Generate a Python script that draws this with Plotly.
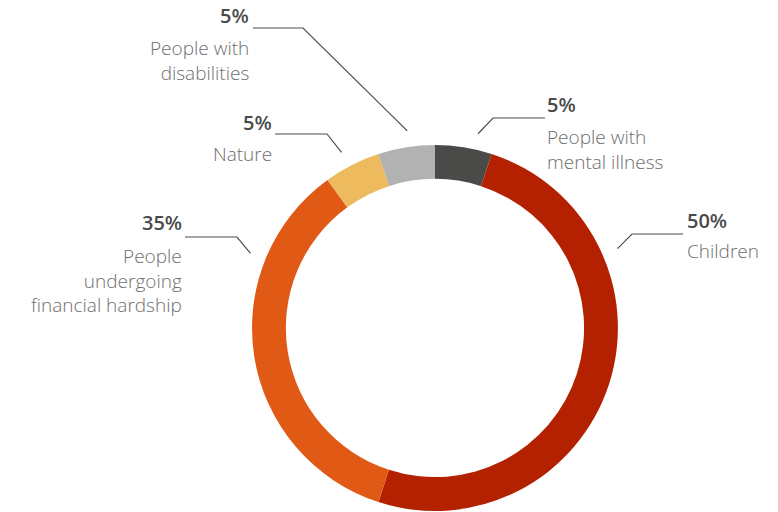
import math
import plotly.graph_objects as go

# ---- data ----
categories = ["People with<br>mental illness", "Children",
              "People<br>undergoing<br>financial hardship", "Nature",
              "People with<br>disabilities"]
values = [5, 50, 35, 5, 5]
pct_labels = ["5%", "50%", "35%", "5%", "5%"]
colors = ["#4a4a48", "#b32100", "#e05a16", "#edba5e", "#b2b2b2"]

# ---- layout config (pixels) ----
W, H = 778, 512
CX, CY, R = 435, 328, 183
HOLE = 0.815
LEAD_R = 199
label_cfg = [
    dict(ang=12.5, elbow=(493, 118), hx=545, side="left", px=545, py=104, ly=149),
    dict(ang=66.5, elbow=(632, 234), hx=683, side="left", px=685, py=220, ly=251),
    dict(ang=292.0, elbow=(237, 237), hx=185, side="right", px=184, py=222, ly=280),
    dict(ang=332.0, elbow=(327, 134), hx=275, side="right", px=274, py=122, ly=154),
    dict(ang=352.0, elbow=(303, 28), hx=253, side="right", px=251, py=15, ly=60),
]


def px(x):
    return x / W


def py(y):
    return 1 - y / H


fig = go.Figure(go.Pie(
    values=values,
    labels=[c.replace("<br>", " ") for c in categories],
    sort=False,
    direction="clockwise",
    rotation=0,
    hole=HOLE,
    marker=dict(colors=colors, line=dict(width=0)),
    textinfo="none",
    hoverinfo="none",
    showlegend=False,
    domain=dict(x=[px(CX - R), px(CX + R)], y=[py(CY + R), py(CY - R)]),
))

shapes = []
annotations = []
for i, cfg in enumerate(label_cfg):
    a = math.radians(cfg["ang"])
    ex = CX + LEAD_R * math.sin(a)
    ey = CY - LEAD_R * math.cos(a)
    bx, by = cfg["elbow"]
    path = f"M {px(ex)},{py(ey)} L {px(bx)},{py(by)} L {px(cfg['hx'])},{py(by)}"
    shapes.append(dict(type="path", xref="paper", yref="paper", path=path,
                       line=dict(color="#4d4d4d", width=1.2)))
    anchor = cfg["side"]
    annotations.append(dict(
        x=px(cfg["px"]), y=py(cfg["py"]), xref="paper", yref="paper",
        text=pct_labels[i], showarrow=False, xanchor=anchor, yanchor="middle",
        align=anchor,
        font=dict(family="Open Sans", size=20, color="#4a4a4a", weight=600)))
    annotations.append(dict(
        x=px(cfg["px"]), y=py(cfg["ly"]), xref="paper", yref="paper",
        text=categories[i], showarrow=False, xanchor=anchor, yanchor="middle",
        align=anchor,
        font=dict(family="Open Sans", size=19, color="#6e6e6e", weight=300)))

fig.update_layout(
    width=W, height=H,
    margin=dict(l=0, r=0, t=0, b=0),
    paper_bgcolor="white", plot_bgcolor="white",
    shapes=shapes, annotations=annotations,
)

fig.write_html("out.html")
